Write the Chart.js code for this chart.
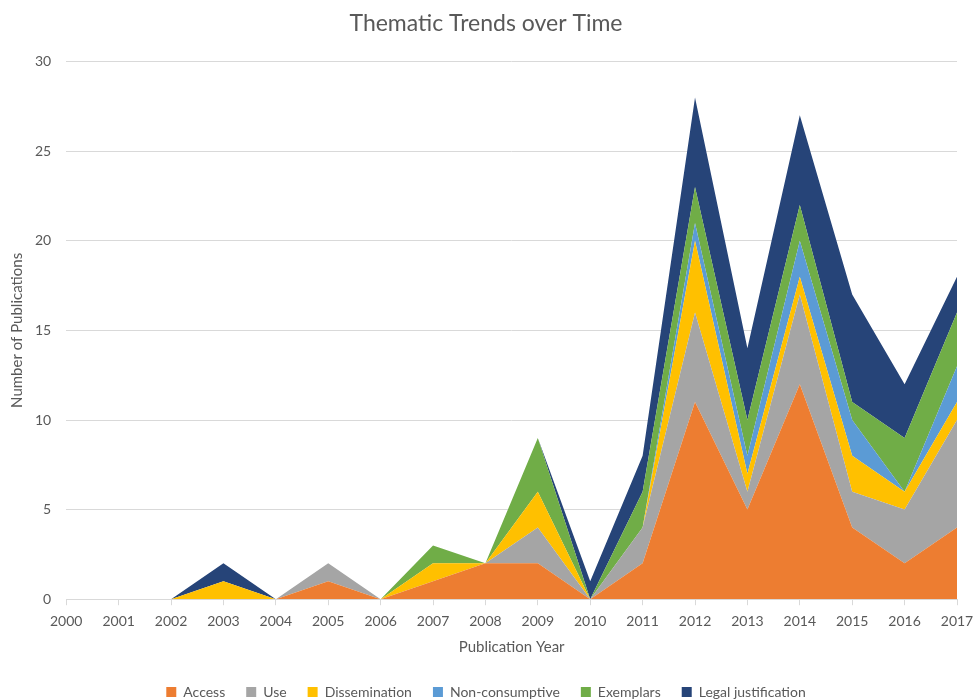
<!DOCTYPE html>
<html lang="en">
<head>
  <meta charset="UTF-8" />
  <title>Thematic Trends over Time</title>
  <script src="https://cdn.jsdelivr.net/npm/chart.js"></script>
  <style>
    body { margin: 0; background: #fff; }
    .chart-wrap { width: 974px; height: 700px; position: relative; }
  </style>
</head>
<body>
  <div class="chart-wrap">
    <canvas id="trendChart"></canvas>
  </div>

  <script>
    // publication years
    const years = ['2000', '2001', '2002', '2003', '2004', '2005', '2006', '2007', '2008',
                   '2009', '2010', '2011', '2012', '2013', '2014', '2015', '2016', '2017'];

    // counts per theme (stacked)
    const access        = [0, 0, 0, 0, 0, 1, 0, 1, 2, 2, 0, 2, 11, 5, 12, 4, 2, 4];
    const use           = [0, 0, 0, 0, 0, 1, 0, 0, 0, 2, 0, 2, 5, 1, 5, 2, 3, 6];
    const dissemination = [0, 0, 0, 1, 0, 0, 0, 1, 0, 2, 0, 0, 4, 1, 1, 2, 1, 1];
    const nonConsumptive= [0, 0, 0, 0, 0, 0, 0, 0, 0, 0, 0, 0, 1, 1, 2, 2, 0, 2];
    const exemplars     = [0, 0, 0, 0, 0, 0, 0, 1, 0, 3, 0, 2, 2, 2, 2, 1, 3, 3];
    const legal         = [0, 0, 0, 1, 0, 0, 0, 0, 0, 0, 1, 2, 5, 4, 5, 6, 3, 2];

    const yTicks = [0, 5, 10, 15, 20, 25, 30];

    const fontFamily = 'Lato, "Open Sans", sans-serif';
    const textColor = '#595959';

    function area(label, data, color, fill) {
      return {
        label: label,
        data: data,
        backgroundColor: color,
        borderColor: color,
        borderWidth: 0,
        pointRadius: 0,
        pointHoverRadius: 0,
        tension: 0,
        fill: fill
      };
    }

    const ctx = document.getElementById('trendChart').getContext('2d');
    new Chart(ctx, {
      type: 'line',
      data: {
        labels: years,
        datasets: [
          area('Access', access, '#ED7D31', 'origin'),
          area('Use', use, '#A5A5A5', '-1'),
          area('Dissemination', dissemination, '#FFC000', '-1'),
          area('Non-consumptive', nonConsumptive, '#5B9BD5', '-1'),
          area('Exemplars', exemplars, '#70AD47', '-1'),
          area('Legal justification', legal, '#264478', '-1')
        ]
      },
      options: {
        responsive: true,
        maintainAspectRatio: false,
        animation: false,
        layout: { padding: { left: -2, right: 0, top: 8, bottom: -9 } },
        plugins: {
          title: {
            display: true,
            text: 'Thematic Trends over Time',
            color: textColor,
            font: { family: fontFamily, size: 23, weight: 'normal' },
            padding: { top: 2, bottom: 24 }
          },
          legend: {
            position: 'bottom',
            labels: {
              color: textColor,
              font: { family: fontFamily, size: 14 },
              boxWidth: 10,
              boxHeight: 10,
              padding: 21
            }
          },
          tooltip: { enabled: false }
        },
        scales: {
          x: {
            offset: false,
            afterFit: axis => { axis.paddingRight = 17; },
            grid: {
              drawOnChartArea: false,
              drawTicks: true,
              tickLength: 6,
              color: '#d9d9d9'
            },
            border: { color: '#d9d9d9' },
            ticks: {
              color: textColor,
              font: { family: fontFamily, size: 14 },
              maxRotation: 0,
              autoSkip: false,
              padding: 8
            },
            title: {
              display: true,
              text: 'Publication Year',
              color: textColor,
              font: { family: fontFamily, size: 15 },
              padding: { top: 0, bottom: 8 }
            }
          },
          y: {
            stacked: true,
            min: 0,
            max: 30,
            afterBuildTicks: axis => { axis.ticks = yTicks.map(v => ({ value: v })); },
            afterFit: axis => { axis.width -= 6; },
            grid: { color: '#d9d9d9', drawTicks: false },
            border: { display: false },
            ticks: {
              color: textColor,
              font: { family: fontFamily, size: 14 },
              padding: 15
            },
            title: {
              display: true,
              text: 'Number of Publications',
              color: textColor,
              font: { family: fontFamily, size: 15 },
              padding: { top: 10, bottom: 0 }
            }
          }
        }
      }
    });
  </script>
</body>
</html>
